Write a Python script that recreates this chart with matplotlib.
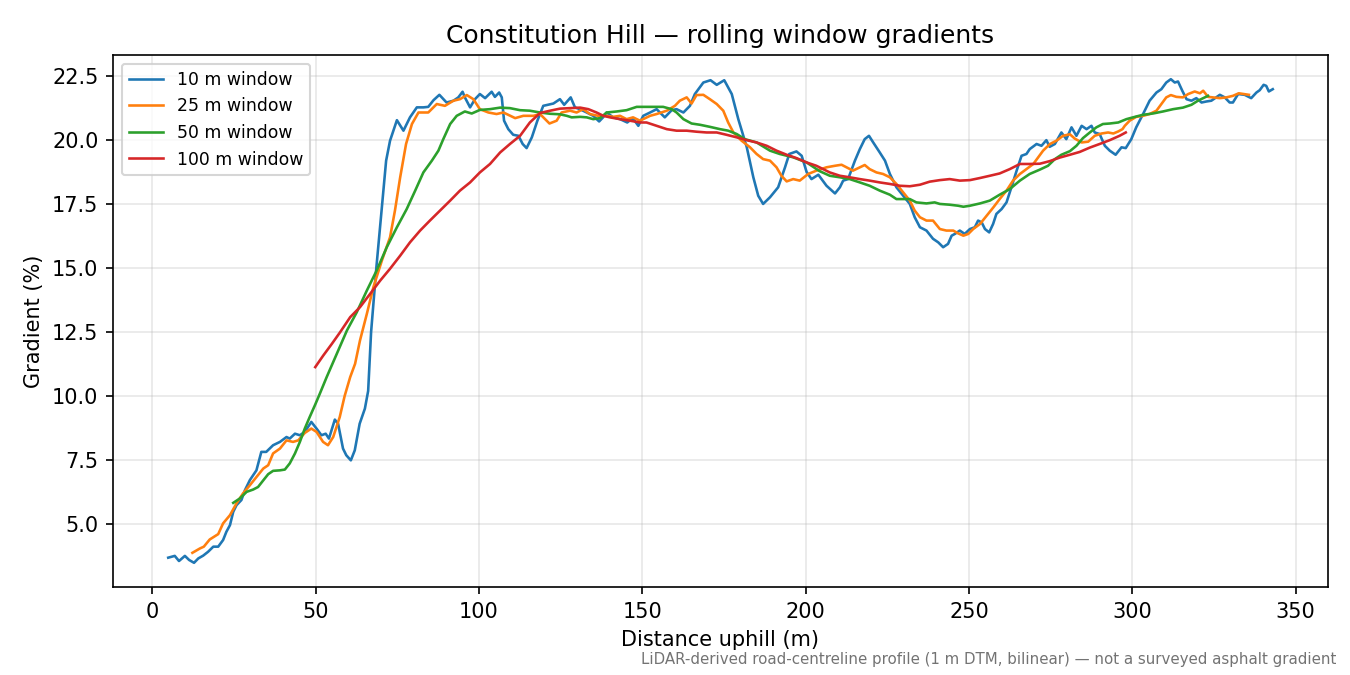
import matplotlib
matplotlib.use("Agg")
import matplotlib.pyplot as plt

plt.rcParams['font.family'] = ['DejaVu Sans']
plt.rcParams['font.size'] = 10

# ---- data ----
d10 = [4.9, 6.9, 8.2, 10.0, 11.3, 12.8, 14.1, 15.6, 17.1, 18.7, 20.2, 21.7, 22.7, 23.8, 24.8, 25.8,
       27.3, 28.4, 29.9, 31.9, 33.4, 34.9, 37.0, 39.1, 41.1, 42.1, 43.7, 45.2, 46.7, 48.7, 50.3, 51.8,
       53.1, 54.1, 55.9, 56.9, 58.4, 59.4, 60.8, 62.0, 63.5, 65.1, 66.1, 67.0, 68.6, 70.3, 71.6, 72.8,
       74.9, 76.9, 78.9, 81.0, 83.0, 84.5, 86.1, 87.9, 90.1, 92.2, 93.7, 95.0, 95.7, 97.3, 98.8, 100.3,
       101.9, 103.9, 104.9, 106.2, 107.0, 107.7, 109.0, 110.5, 112.1, 113.4, 114.6, 116.2, 117.9, 119.7,
       122.8, 124.8, 126.1, 128.1, 129.4, 130.9, 133.0, 135.0, 136.8, 138.0, 139.1, 141.1, 143.2, 145.4,
       147.1, 148.8, 150.3, 152.4, 154.4, 155.4, 156.9, 159.0, 160.5, 162.6, 164.6, 166.1, 168.7, 170.9,
       172.8, 175.1, 177.4, 179.4, 182.0, 184.0, 185.5, 187.0, 189.1, 191.6, 193.7, 195.0, 197.2, 198.8,
       200.3, 201.8, 203.9, 206.4, 209.0, 210.5, 211.5, 213.0, 215.1, 216.6, 218.1, 219.4, 220.7, 222.7,
       224.3, 225.8, 227.8, 229.9, 231.9, 233.4, 235.0, 237.0, 239.0, 240.6, 242.1, 243.6, 244.7, 245.7,
       247.2, 248.7, 250.3, 251.8, 252.8, 253.9, 254.9, 256.2, 257.4, 258.4, 260.0, 261.5, 263.0, 264.6,
       266.1, 267.6, 268.6, 270.7, 272.2, 273.7, 274.7, 276.3, 278.3, 279.8, 281.4, 282.9, 284.5, 286.0,
       287.5, 288.5, 290.0, 291.6, 293.1, 294.9, 296.7, 298.0, 299.7, 301.2, 303.3, 305.3, 307.4, 308.9,
       310.4, 311.8, 313.0, 314.0, 315.3, 316.6, 318.1, 319.6, 321.2, 322.7, 324.2, 326.8, 328.3, 329.8,
       330.8, 332.4, 334.4, 336.4, 338.0, 339.0, 340.2, 341.0, 341.8, 343.0]
g10 = [3.69, 3.76, 3.56, 3.76, 3.60, 3.49, 3.66, 3.77, 3.92, 4.12, 4.12, 4.38, 4.70, 4.96, 5.48, 5.74,
       5.94, 6.33, 6.72, 7.10, 7.82, 7.82, 8.08, 8.21, 8.40, 8.34, 8.53, 8.47, 8.60, 8.99, 8.73, 8.47,
       8.53, 8.34, 9.08, 8.92, 7.95, 7.69, 7.49, 7.88, 8.92, 9.51, 10.20, 12.50, 15.00, 17.37, 19.19, 19.97,
       20.77, 20.36, 20.88, 21.27, 21.27, 21.29, 21.55, 21.76, 21.46, 21.53, 21.66, 21.88, 21.66, 21.27, 21.59, 21.79,
       21.63, 21.88, 21.68, 21.85, 21.66, 20.75, 20.42, 20.20, 20.16, 19.84, 19.68, 20.10, 20.75, 21.33,
       21.42, 21.59, 21.37, 21.66, 21.27, 21.20, 21.07, 20.94, 20.72, 20.88, 21.07, 20.88, 20.81, 20.68,
       20.85, 20.55, 20.94, 21.07, 21.20, 21.07, 20.88, 21.16, 21.20, 21.07, 21.33, 21.79, 22.24, 22.33,
       22.15, 22.33, 21.79, 20.81, 19.71, 18.54, 17.82, 17.50, 17.76, 18.15, 18.93, 19.45, 19.55, 19.38,
       18.75, 18.47, 18.64, 18.21, 17.91, 18.15, 18.41, 18.47, 19.19, 19.64, 20.03, 20.16, 19.90, 19.51,
       19.19, 18.67, 18.15, 17.82, 17.50, 16.98, 16.59, 16.46, 16.14, 16.00, 15.81, 15.94, 16.26, 16.33,
       16.46, 16.33, 16.52, 16.59, 16.85, 16.78, 16.52, 16.39, 16.72, 17.11, 17.30, 17.56, 18.15, 18.80,
       19.38, 19.45, 19.64, 19.84, 19.77, 19.99, 19.73, 19.84, 20.29, 20.03, 20.49, 20.16, 20.55, 20.42,
       20.55, 20.29, 20.23, 19.77, 19.58, 19.42, 19.71, 19.68, 20.03, 20.49, 21.01, 21.53, 21.85, 21.98,
       22.24, 22.37, 22.24, 22.28, 21.92, 21.59, 21.53, 21.63, 21.46, 21.50, 21.53, 21.76, 21.66, 21.46,
       21.46, 21.79, 21.76, 21.63, 21.85, 21.94, 22.15, 22.11, 21.89, 21.98]

d25 = [12.3, 14.6, 15.8, 17.6, 20.2, 21.7, 23.8, 25.8, 27.8, 29.9, 31.9, 34.0, 35.5, 37.0, 39.1, 41.1,
       43.1, 44.7, 46.7, 48.7, 50.3, 52.3, 53.8, 55.4, 57.4, 58.9, 60.6, 62.1, 63.6, 65.7, 67.7, 70.3,
       72.8, 74.3, 75.9, 77.7, 79.5, 81.5, 84.5, 87.1, 89.6, 92.2, 94.2, 96.3, 98.3, 100.3, 102.9, 105.4,
       107.5, 111.1, 113.6, 116.7, 118.7, 121.6, 123.8, 125.3, 127.9, 129.9, 131.9, 134.0, 136.5, 139.1,
       141.1, 143.2, 145.2, 147.2, 149.3, 152.4, 154.4, 157.5, 160.0, 161.5, 163.6, 165.1, 166.6, 168.7,
       170.7, 172.8, 174.8, 176.3, 177.9, 180.4, 183.0, 185.0, 187.0, 189.1, 191.1, 192.6, 194.2, 196.2,
       198.2, 200.8, 203.3, 206.4, 209.0, 211.0, 212.5, 214.5, 216.6, 218.1, 219.6, 221.7, 223.7, 225.8,
       227.8, 229.9, 231.9, 233.4, 235.0, 237.0, 239.0, 241.1, 243.1, 245.2, 246.7, 248.3, 249.8, 251.3,
       253.4, 255.4, 257.5, 259.4, 261.5, 263.5, 265.6, 267.6, 269.7, 271.2, 272.7, 274.8, 276.8, 278.8,
       280.9, 282.4, 284.5, 286.5, 288.5, 290.6, 292.6, 294.2, 295.7, 297.0, 297.7, 299.2, 301.2, 303.3,
       305.3, 307.4, 308.9, 310.4, 311.8, 313.5, 315.5, 317.1, 319.1, 320.7, 321.7, 323.2, 324.7, 326.8,
       328.8, 330.8, 332.6, 334.1, 335.7]
g25 = [3.88, 4.05, 4.12, 4.40, 4.61, 5.03, 5.35, 5.81, 6.20, 6.52, 6.84, 7.17, 7.30, 7.76, 7.95, 8.27,
       8.21, 8.27, 8.56, 8.73, 8.60, 8.21, 8.08, 8.40, 9.18, 10.00, 10.74, 11.26, 12.17, 13.21, 14.25, 15.29,
       16.20, 17.24, 18.54, 19.84, 20.62, 21.07, 21.07, 21.40, 21.33, 21.53, 21.59, 21.75, 21.59, 21.20, 21.07, 21.01,
       21.07, 20.85, 20.94, 20.94, 21.01, 20.64, 20.75, 21.07, 21.14, 21.07, 21.20, 21.01, 20.94, 20.94,
       20.90, 20.94, 20.81, 20.88, 20.75, 20.94, 21.01, 21.14, 21.33, 21.53, 21.66, 21.42, 21.75, 21.76,
       21.59, 21.40, 21.14, 20.68, 20.29, 19.97, 19.71, 19.45, 19.25, 19.19, 18.93, 18.60, 18.38, 18.47,
       18.41, 18.67, 18.80, 18.93, 18.99, 19.03, 18.93, 18.80, 18.93, 19.02, 18.86, 18.73, 18.67, 18.54,
       18.28, 17.95, 17.63, 17.24, 16.98, 16.85, 16.85, 16.52, 16.46, 16.46, 16.35, 16.26, 16.33, 16.52,
       16.72, 17.04, 17.37, 17.69, 18.02, 18.41, 18.67, 18.86, 19.06, 19.32, 19.58, 19.84, 19.97, 20.16,
       20.22, 20.05, 19.90, 19.93, 20.16, 20.25, 20.29, 20.25, 20.33, 20.42, 20.55, 20.75, 20.90, 20.94,
       21.01, 21.14, 21.40, 21.66, 21.75, 21.68, 21.66, 21.79, 21.89, 21.82, 21.92, 21.68, 21.66, 21.63,
       21.66, 21.72, 21.82, 21.79, 21.76]

d50 = [24.8, 26.8, 28.9, 30.9, 32.4, 34.0, 35.5, 37.0, 39.1, 40.6, 42.1, 43.7, 45.2, 46.7, 48.2, 49.8,
       51.3, 53.4, 56.5, 59.6, 62.6, 65.7, 68.7, 71.8, 74.9, 77.9, 80.5, 83.0, 85.6, 87.6, 89.1, 91.2,
       93.2, 95.7, 97.8, 100.3, 103.4, 106.5, 109.5, 112.6, 115.6, 118.7, 121.8, 124.8, 126.9, 128.4,
       131.0, 133.0, 135.0, 137.1, 139.1, 142.2, 145.2, 148.3, 152.4, 156.4, 159.0, 160.5, 162.6, 165.1,
       167.7, 170.7, 173.8, 176.3, 178.9, 181.4, 185.0, 189.1, 192.1, 196.2, 200.3, 204.3, 207.4, 210.5,
       213.5, 216.6, 219.6, 222.7, 225.8, 227.8, 231.9, 233.9, 237.0, 239.5, 241.1, 244.1, 246.7, 248.3,
       250.3, 253.4, 256.4, 259.4, 262.5, 265.6, 268.6, 271.7, 274.2, 276.3, 278.3, 280.9, 282.9, 284.9,
       287.0, 289.0, 291.0, 293.1, 295.7, 298.2, 300.8, 303.3, 306.3, 309.4, 312.5, 315.5, 318.1, 320.1,
       321.7, 323.2]
g50 = [5.83, 6.00, 6.26, 6.35, 6.45, 6.71, 6.95, 7.08, 7.10, 7.13, 7.37, 7.76, 8.21, 8.73, 9.18, 9.64,
       10.09, 10.74, 11.65, 12.56, 13.27, 14.12, 14.90, 15.81, 16.59, 17.30, 18.02, 18.73, 19.19, 19.58, 20.03, 20.62,
       20.94, 21.11, 21.03, 21.17, 21.20, 21.26, 21.24, 21.16, 21.14, 21.07, 21.02, 21.00, 20.94, 20.88,
       20.90, 20.88, 20.81, 20.85, 21.07, 21.11, 21.16, 21.29, 21.29, 21.29, 21.20, 21.07, 20.81, 20.64,
       20.59, 20.51, 20.42, 20.36, 20.23, 20.03, 19.90, 19.58, 19.45, 19.32, 19.12, 18.78, 18.60, 18.54,
       18.47, 18.34, 18.21, 18.02, 17.86, 17.69, 17.69, 17.56, 17.52, 17.56, 17.50, 17.47, 17.43, 17.39,
       17.43, 17.52, 17.63, 17.86, 18.08, 18.41, 18.67, 18.84, 18.99, 19.25, 19.42, 19.56, 19.77, 20.07,
       20.29, 20.49, 20.62, 20.64, 20.68, 20.81, 20.90, 20.98, 21.03, 21.11, 21.20, 21.26, 21.37, 21.53,
       21.63, 21.72]

d100 = [49.9, 52.4, 55.0, 57.5, 60.6, 63.6, 66.7, 69.8, 72.8, 75.9, 78.9, 82.0, 85.0, 88.1, 91.2, 94.2,
        97.3, 100.3, 103.4, 106.5, 109.5, 112.6, 115.6, 118.7, 121.8, 124.8, 127.9, 131.0, 133.5, 136.0,
        138.1, 140.1, 143.2, 146.2, 149.3, 151.3, 154.4, 157.5, 160.5, 163.6, 166.6, 169.7, 172.8, 175.8,
        178.9, 182.0, 185.0, 188.1, 191.1, 194.2, 197.2, 200.3, 203.3, 207.4, 210.5, 213.5, 216.6, 219.6,
        222.7, 225.8, 228.8, 231.9, 235.0, 238.0, 241.1, 244.1, 247.2, 250.3, 253.3, 256.4, 259.4, 262.5,
        265.6, 268.6, 271.7, 274.7, 277.8, 280.9, 283.9, 287.0, 290.0, 293.1, 296.1, 298.0]
g100 = [11.13, 11.59, 12.04, 12.49, 13.08, 13.47, 13.99, 14.51, 14.97, 15.48, 16.00, 16.46, 16.85, 17.24, 17.63, 18.02,
        18.34, 18.73, 19.06, 19.51, 19.84, 20.16, 20.68, 21.05, 21.14, 21.22, 21.24, 21.26, 21.20, 21.07,
        20.94, 20.88, 20.81, 20.75, 20.68, 20.68, 20.55, 20.42, 20.36, 20.36, 20.32, 20.29, 20.29, 20.20,
        20.10, 19.99, 19.90, 19.77, 19.58, 19.42, 19.29, 19.12, 18.99, 18.73, 18.60, 18.54, 18.47, 18.41,
        18.34, 18.28, 18.21, 18.19, 18.25, 18.37, 18.43, 18.47, 18.41, 18.43, 18.51, 18.60, 18.69, 18.86,
        19.06, 19.06, 19.07, 19.17, 19.31, 19.42, 19.53, 19.70, 19.84, 19.99, 20.16, 20.29]

series_labels = ["10 m window", "25 m window", "50 m window", "100 m window"]
series_colors = ["#1f77b4", "#ff7f0e", "#2ca02c", "#d62728"]

title = "Constitution Hill \u2014 rolling window gradients"
xlabel = "Distance uphill (m)"
ylabel = "Gradient (%)"
footnote = "LiDAR-derived road-centreline profile (1 m DTM, bilinear) \u2014 not a surveyed asphalt gradient"

# ---- plot ----
fig = plt.figure(figsize=(9, 4.5), dpi=150)
ax = fig.add_axes([0.0837, 0.1304, 0.9, 0.7881])

for (xs, ys), lab, col in zip([(d10, g10), (d25, g25), (d50, g50), (d100, g100)],
                              series_labels, series_colors):
    ax.plot(xs, ys, color=col, lw=1.25, label=lab)

ax.set_title(title, fontsize=12)
ax.set_xlabel(xlabel)
ax.set_ylabel(ylabel)
ax.grid(True, alpha=0.3)
ax.set_xticks([0, 50, 100, 150, 200, 250, 300, 350])
ax.set_yticks([5.0, 7.5, 10.0, 12.5, 15.0, 17.5, 20.0, 22.5])
ax.legend(loc="upper left", fontsize=8.3)

fig.text(0.99, 0.012, footnote, ha="right", va="bottom", fontsize=7.2, color="0.45")

fig.savefig("out.png", dpi=150)
